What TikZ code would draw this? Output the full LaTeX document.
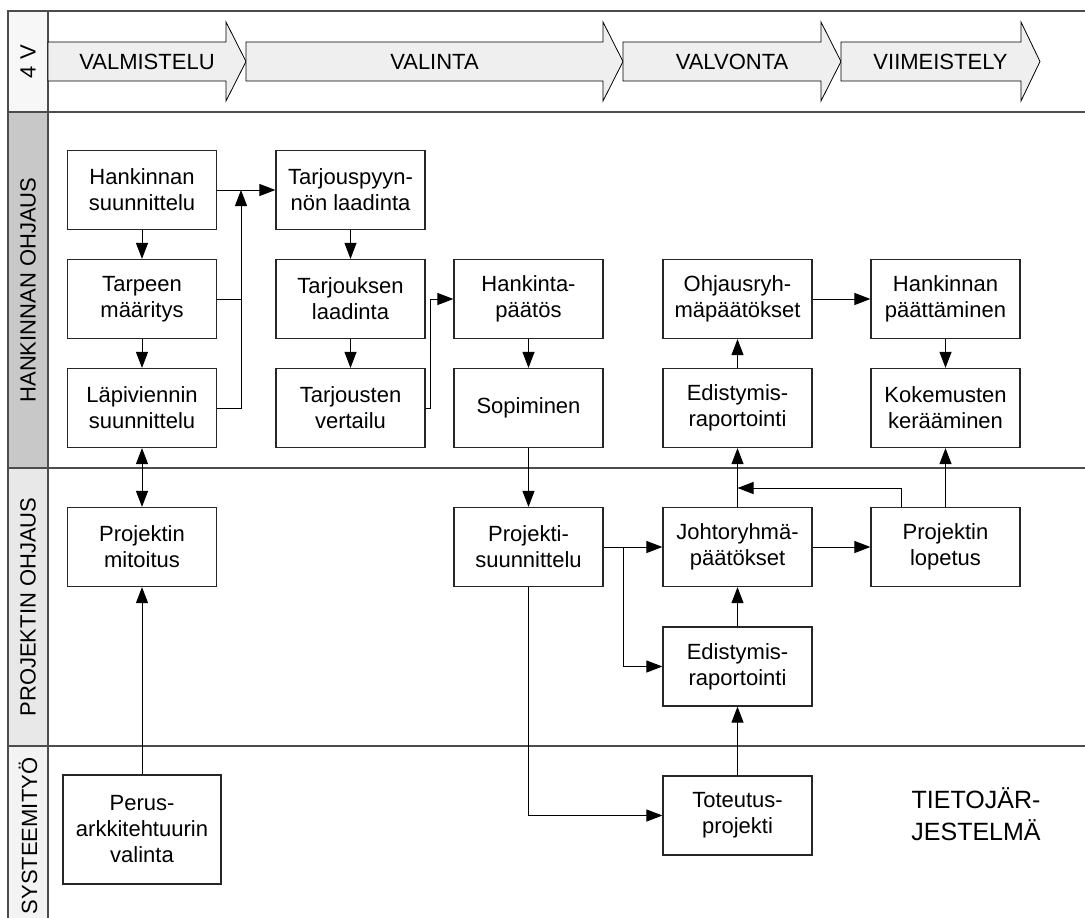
\documentclass[tikz,border=0pt]{standalone}
\usepackage{fontspec}
\setmainfont{Liberation Sans}
\usepackage{tikz}
\usetikzlibrary{calc,arrows.meta}
\definecolor{vgray}{HTML}{F7F7F7}
\definecolor{hgray}{HTML}{C8C8C8}
\definecolor{pgray}{HTML}{E8E8E8}
\definecolor{sgray}{HTML}{F3F3F3}
\definecolor{chevgray}{HTML}{EFEFEF}

\begin{document}
\begin{tikzpicture}[x=1pt, y=-1pt, line width=1pt, >={Triangle[length=16pt,width=12pt]}, % 1pt = 1px、y軸は下向き
    box/.style={draw=black!85, line width=1.2pt, fill=white, minimum width=149pt, minimum height=79pt,
      inner sep=0pt, align=center, font=\fontsize{22}{26}\selectfont},
    lanelabel/.style={rotate=90, font=\fontsize{22}{26}\selectfont},
    phase/.style={font=\fontsize{22}{26}\selectfont}]
    \useasboundingbox (0,0) rectangle (1085,918); % 余白込みの大きさ

    % レーン見出しの背景
    \fill[vgray] (8,11) rectangle (48,112);
    \fill[hgray] (8,112) rectangle (48,468);
    \fill[pgray] (8,468) rectangle (48,746);
    \fill[sgray] (8,746) rectangle (48,918);
    \draw[black!70, line width=1.2pt] (8,918) -- (8,11) -- (1085,11); % 外枠
    \draw[black!70, line width=1.2pt] (48,11) -- (48,918);
    \foreach \y in {112,468,746} \draw[black!70, line width=1.2pt] (8,\y) -- (1085,\y); % レーン境界

    \node[lanelabel] (l4v) at (28,61.5) {4 V};
    \node[lanelabel] (lhank) at (28,290) {HANKINNAN OHJAUS};
    \node[lanelabel] (lproj) at (28,607) {PROJEKTIN OHJAUS};
    \node[lanelabel] (lsyst) at (28,836) {SYSTEEMITYÖ};

    % 4V の矢印
    \foreach \a/\b/\c/\t [count=\i] in {48/226/246/VALMISTELU, 246/603/623/VALINTA, 623/821/841/VALVONTA, 841/1021/1040/VIIMEISTELY}{
      \draw[fill=chevgray, line width=0.8pt] (\a,42) -- (\b,42) -- (\b,22) -- (\c,61.5) -- (\b,101) -- (\b,81) -- (\a,81) -- cycle;
      \node[phase] (v\i) at ({(\a+\c)/2},61.5) {\t};
    }

    % 箱
    \node[box] (hsuun) at (142,190) {Hankinnan\\suunnittelu};
    \node[box] (tarve) at (142,299) {Tarpeen\\määritys};
    \node[box] (lapi) at (142,408) {Läpiviennin\\suunnittelu};
    \node[box] (mitoitus) at (142,547) {Projektin\\mitoitus};
    \node[box, minimum width=158pt, minimum height=109pt] (perus) at (142,829.5) {Perus-\\arkkitehtuurin\\valinta};

    \node[box] (tpyynto) at (350.5,190) {Tarjouspyyn-\\nön laadinta};
    \node[box] (tlaadinta) at (350.5,299) {Tarjouksen\\laadinta};
    \node[box] (tvertailu) at (350.5,408) {Tarjousten\\vertailu};

    \node[box] (hpaatos) at (528.5,299) {Hankinta-\\päätös};
    \node[box] (sopiminen) at (528.5,408) {Sopiminen};
    \node[box] (psuun) at (528.5,547) {Projekti-\\suunnittelu};

    \node[box] (orp) at (737.5,299) {Ohjausryh-\\mäpäätökset};
    \node[box] (edist1) at (737.5,408) {Edistymis-\\raportointi};
    \node[box] (jrp) at (737.5,547) {Johtoryhmä-\\päätökset};
    \node[box] (edist2) at (737.5,666.5) {Edistymis-\\raportointi};
    \node[box] (toteutus) at (737.5,815.5) {Toteutus-\\projekti};

    \node[box] (hpaatt) at (945.5,299) {Hankinnan\\päättäminen};
    \node[box] (kokem) at (945.5,408) {Kokemusten\\kerääminen};
    \node[box] (lopetus) at (945.5,547) {Projektin\\lopetus};

    \node[font=\fontsize{25}{32}\selectfont, align=center] (tieto) at (976,814.5) {TIETOJÄR-\\JESTELMÄ};

    % 接続線
    \coordinate (jA) at (241,190); % 合流点
    \coordinate (jT) at (430,408);
    \coordinate (jB) at (623,547);
    \coordinate (jC) at (737.5,488);

    \draw[->] (hsuun) -- (tpyynto);
    \draw[->] (hsuun) -- (tarve);
    \draw[->] (tarve) -- (lapi);
    \draw (tarve.east) -- (tarve.east -| jA);
    \draw[->] (lapi.east) -| (jA);
    \draw[<->] (lapi) -- (mitoitus);
    \draw[->] (perus) -- (mitoitus);

    \draw[->] (tpyynto) -- (tlaadinta);
    \draw[->] (tlaadinta) -- (tvertailu);
    \draw[->] (tvertailu.east) -- (jT) |- (hpaatos.west);

    \draw[->] (hpaatos) -- (sopiminen);
    \draw[->] (sopiminen) -- (psuun);
    \draw[->] (psuun) -- (jrp);
    \draw[->] (jB) |- (edist2.west);
    \draw[->] (psuun.south) |- (toteutus.west);

    \draw[->] (toteutus) -- (edist2);
    \draw[->] (edist2) -- (jrp);
    \draw[->] (jrp) -- (edist1);
    \draw[->] (edist1) -- (orp);
    \draw[->] (orp) -- (hpaatt);
    \draw[->] (hpaatt) -- (kokem);
    \draw[->] (jrp) -- (lopetus);
    \draw[->] (lopetus) -- (kokem);
    \draw[->] ([xshift=-44.5pt]lopetus.north) |- (jC); % 戻り矢印
\end{tikzpicture}
\end{document}
